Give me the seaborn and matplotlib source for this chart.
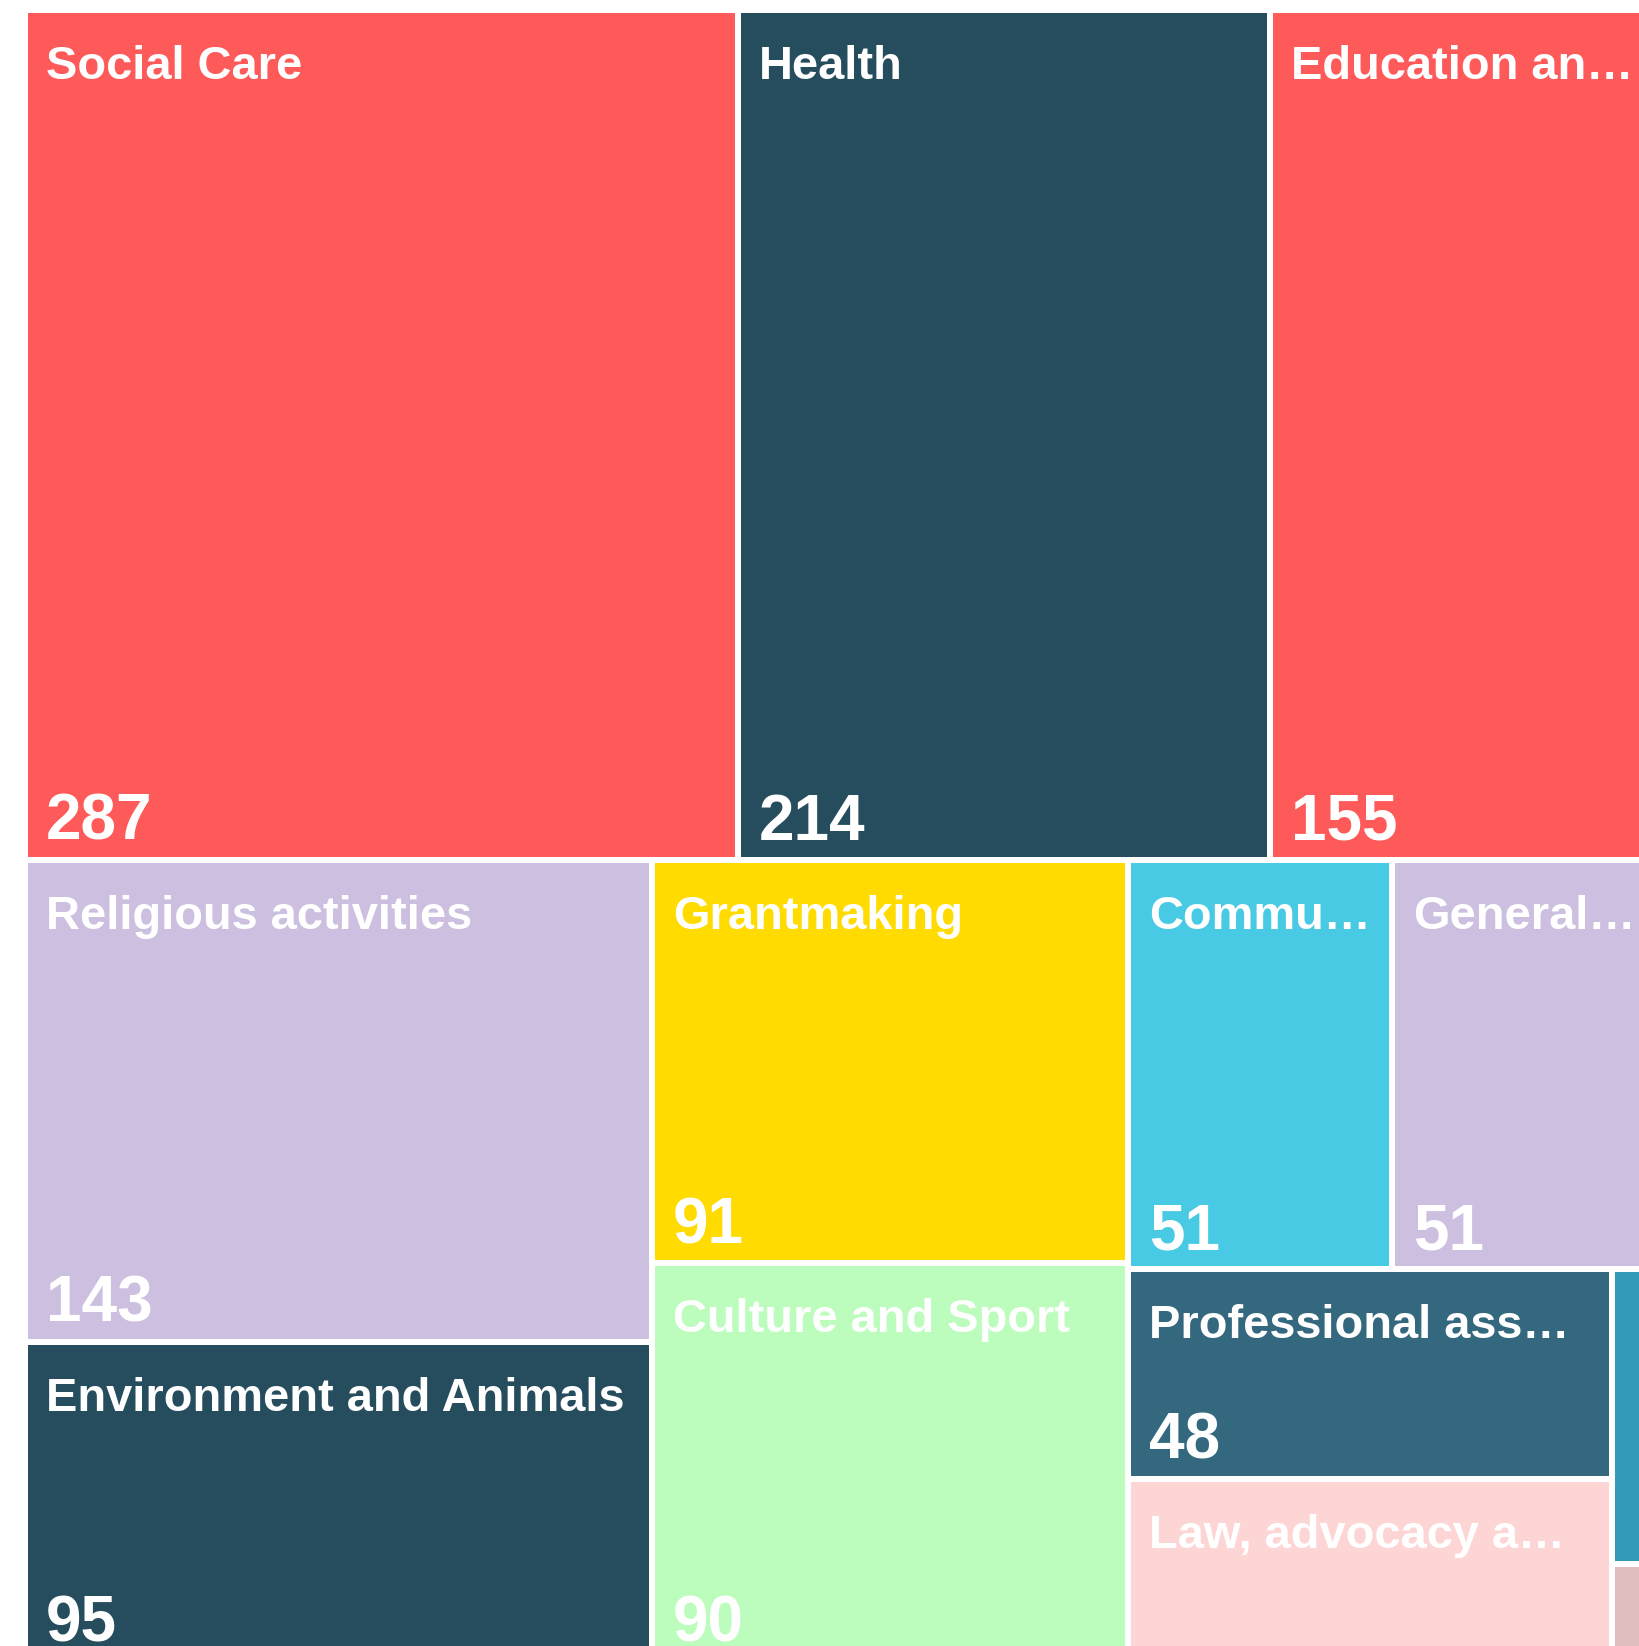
"""
Treemap of organisations by category (cropped view).
"""

import seaborn as sns
import matplotlib.pyplot as plt
from matplotlib.patches import Rectangle

# =============================
# DATA
# =============================

labels = [
    "Social Care", "Health", "Education an…", "Religious activities",
    "Environment and Animals", "Grantmaking", "Culture and Sport",
    "Commu…", "General…", "Professional ass…", "Law, advocacy a…",
    "International", "Other",
]
values = [287, 214, 155, 143, 95, 91, 90, 51, 51, 48, 42, 6, 2]
colors = [
    "#FF5A5A", "#264D5E", "#FF5A5A", "#CDBFDF",
    "#264D5E", "#FFDB00", "#BCFCBC",
    "#48CAE4", "#CDBFDF", "#33687E", "#FDD5D5",
    "#3399B8", "#DDBDBD",
]

# =============================
# LAYOUT (squarified, golden ratio like d3)
# =============================

PHI = (1 + 5 ** 0.5) / 2


def squarify(vals, x0, y0, x1, y1, ratio=PHI):
    rects = []
    total = float(sum(vals))
    i0, n = 0, len(vals)
    while i0 < n:
        dx, dy = x1 - x0, y1 - y0
        i1 = i0
        s = vals[i1]
        i1 += 1
        vmin = vmax = s
        alpha = max(dy / dx, dx / dy) / (total * ratio)
        beta = s * s * alpha
        best = max(vmax / beta, beta / vmin)
        while i1 < n:
            v = vals[i1]
            s2 = s + v
            mn, mx = min(vmin, v), max(vmax, v)
            beta = s2 * s2 * alpha
            r = max(mx / beta, beta / mn)
            if r > best:
                break
            s, vmin, vmax, best = s2, mn, mx, r
            i1 += 1
        row = vals[i0:i1]
        if dx < dy:
            h = dy * s / total
            x = x0
            for v in row:
                w = dx * v / s
                rects.append((x, y0, w, h))
                x += w
            y0 += h
        else:
            w = dx * s / total
            y = y0
            for v in row:
                h = dy * v / s
                rects.append((x0, y, w, h))
                y += h
            x0 += w
        total -= s
        i0 = i1
    return rects


W, H = 1639, 1646
rects = squarify(values, 25, 10, 25 + 1630, 10 + 1652)

# =============================
# PLOT
# =============================

sns.set_theme(style="white")
plt.rcParams["font.family"] = ["Liberation Sans", "DejaVu Sans"]

fig = plt.figure(figsize=(W / 100, H / 100), dpi=100)
ax = fig.add_axes([0, 0, 1, 1])
ax.set_xlim(0, W)
ax.set_ylim(H, 0)
ax.axis("off")

GAP = 3
for (x, y, w, h), lab, val, col in zip(rects, labels, values, colors):
    ax.add_patch(Rectangle((x + GAP, y + GAP), w - 2 * GAP, h - 2 * GAP,
                           facecolor=col, edgecolor="none"))
    if w < 150:
        continue
    ax.text(x + GAP + 18, y + GAP + 66, lab, color="white", fontsize=33.8,
            fontweight="bold", va="baseline", ha="left")
    # value only when the tile is tall enough for both lines
    if h - 2 * GAP > 195:
        ax.text(x + GAP + 18, y + h - GAP - 17, str(val), color="white",
                fontsize=46, fontweight="bold", va="baseline", ha="left")

fig.savefig("out.png", dpi=100, facecolor="white")
plt.close(fig)
